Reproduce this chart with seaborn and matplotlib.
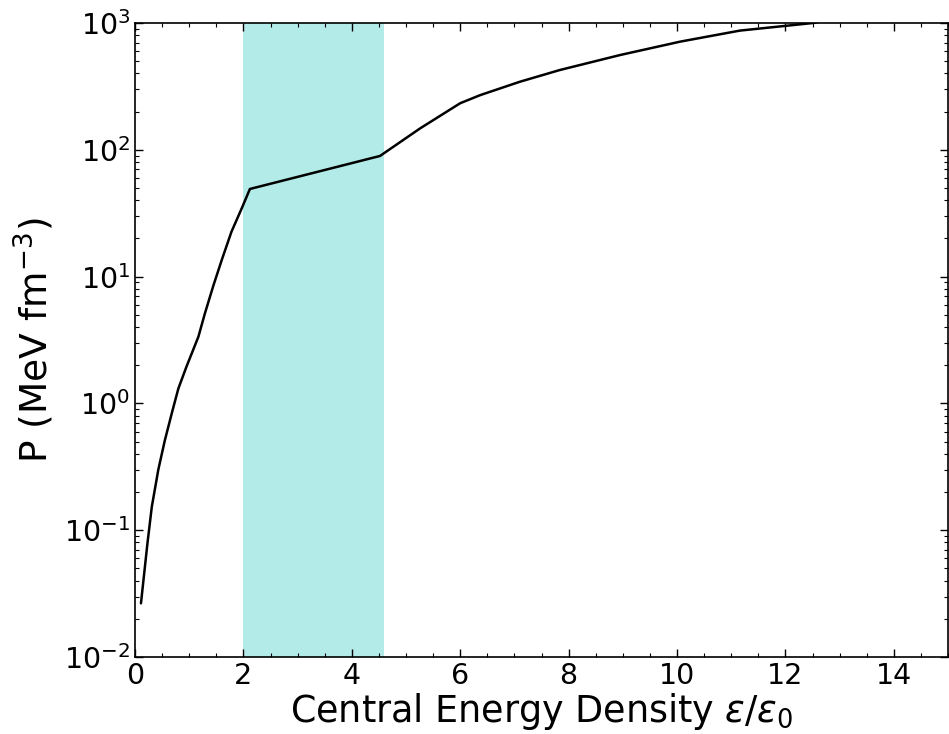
import numpy as np
import pandas as pd
import seaborn as sns
import matplotlib
matplotlib.use("Agg")
import matplotlib.pyplot as plt
from matplotlib.ticker import MultipleLocator, LogLocator

# Data
energy_density = [0.11, 0.23, 0.31, 0.43, 0.55, 0.68, 0.80, 0.95, 1.17, 1.29, 1.45, 1.60,
                  1.78, 1.97, 2.12, 4.52, 5.26, 6.00, 6.37, 7.10, 7.84, 8.95, 10.06,
                  11.16, 12.51, 12.60]
pressure = [0.0265, 0.079, 0.153, 0.30, 0.51, 0.84, 1.31, 1.95, 3.36, 5.13, 8.6, 13.5,
            22.6, 34.6, 49.1, 89.4, 147.5, 233.0, 270.0, 344.0, 426.0, 559.0, 713.0,
            871.0, 1000.0, 1015.0]
band_range = [2.0, 4.6]

df = pd.DataFrame({"e": energy_density, "P": pressure})

sns.set_style("ticks")
plt.rcParams["font.family"] = ["DejaVu Sans"]
plt.rcParams["mathtext.fontset"] = "dejavusans"
plt.rcParams["text.color"] = "black"
plt.rcParams["axes.labelcolor"] = "black"

fig = plt.figure(figsize=(9.49, 7.34), dpi=100)
ax = fig.add_axes([135/949, 1-657/734, 813/949, 634/734])

ax.axvspan(band_range[0], band_range[1], color="#b3ebe9", lw=0, zorder=0)
sns.lineplot(data=df, x="e", y="P", ax=ax, color="black", lw=1.8, sort=False, zorder=3)

ax.set_yscale("log")
ax.set_xlim(0, 15)
ax.set_ylim(1e-2, 1e3)
ax.xaxis.set_major_locator(MultipleLocator(2))
ax.xaxis.set_minor_locator(MultipleLocator(0.5))
ax.yaxis.set_major_locator(LogLocator(base=10, numticks=10))
ax.yaxis.set_minor_locator(LogLocator(base=10, subs=np.arange(2, 10), numticks=20))

ax.tick_params(which="both", direction="in", top=True, right=True, colors="black")
ax.tick_params(which="major", length=6, width=1.0, labelsize=20.5)
ax.tick_params(which="minor", length=3, width=0.8)
for s in ax.spines.values():
    s.set_color("black")
    s.set_linewidth(1.2)

ax.set_xlabel(r"Central Energy Density $\varepsilon/\varepsilon_0$", fontsize=26.3, labelpad=1)
ax.set_ylabel(r"P (MeV fm$^{-3}$)", fontsize=27, labelpad=6)

fig.savefig("out.png", dpi=100)
